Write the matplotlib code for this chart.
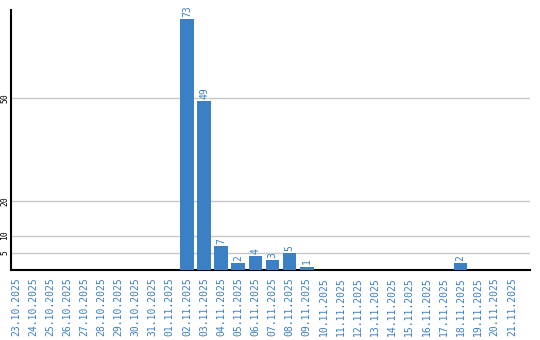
import numpy as np
import matplotlib.pyplot as plt

dates = ['23.10.2025', '24.10.2025', '25.10.2025', '26.10.2025', '27.10.2025',
         '28.10.2025', '29.10.2025', '30.10.2025', '31.10.2025', '01.11.2025',
         '02.11.2025', '03.11.2025', '04.11.2025', '05.11.2025', '06.11.2025',
         '07.11.2025', '08.11.2025', '09.11.2025', '10.11.2025', '11.11.2025',
         '12.11.2025', '13.11.2025', '14.11.2025', '15.11.2025', '16.11.2025',
         '17.11.2025', '18.11.2025', '19.11.2025', '20.11.2025', '21.11.2025']
counts = [0, 0, 0, 0, 0, 0, 0, 0, 0, 0,
          73, 49, 7, 2, 4, 3, 5, 1, 0, 0,
          0, 0, 0, 0, 0, 0, 2, 0, 0, 0]
yticks = [5, 10, 20, 50]

blue = '#3b7fc4'
W, H = 540, 340

fig = plt.figure(figsize=(W / 100, H / 100), dpi=100)
ax = fig.add_axes([10.5 / W, 70 / H, (530 - 10.5) / W, (270 - 10) / H])

x = np.arange(len(dates))
ax.bar(x, counts, width=0.8, color=blue, zorder=3)

# value labels above non-empty bars
for xi, c in zip(x, counts):
    if c > 0:
        ax.text(xi, c + 0.6, str(c), rotation=90, ha='center', va='bottom',
                color=blue, fontsize=7, family='DejaVu Sans Mono')

ax.set_xlim(-0.32, len(dates) - 1 + 1.06)
ax.set_ylim(0, 75.6)
ax.set_yticks(yticks)
ax.set_yticklabels([str(t) for t in yticks], rotation=90, va='center',
                   fontsize=5.8, family='DejaVu Sans Mono')
ax.set_xticks(x)
ax.set_xticklabels(dates, rotation=90, color=blue, fontsize=7,
                   family='DejaVu Sans Mono')
ax.tick_params(axis='x', length=0, pad=5)
ax.tick_params(axis='y', length=0, pad=1)
ax.grid(axis='y', color='#c8c8c8', linewidth=1, zorder=0)

for s in ['top', 'right']:
    ax.spines[s].set_visible(False)
ax.spines['left'].set_linewidth(1.5)
ax.spines['bottom'].set_linewidth(1.5)

fig.savefig('out.png', dpi=100)
